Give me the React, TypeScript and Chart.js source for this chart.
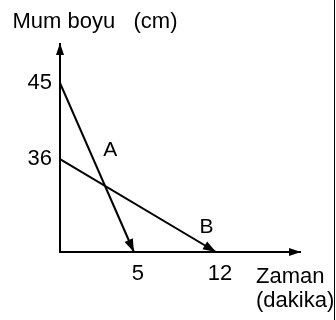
import React, { useEffect, useRef } from 'react';
import { Chart, registerables, LinearScale } from 'chart.js';

// ---- data ----
const candleATime = [0, 5];
const candleAHeight = [45, 0];
const candleBTime = [0, 12];
const candleBHeight = [36, 0];
const xTickValues = [5, 12];
const yTickValues = [36, 45];
const seriesNames = ['A', 'B'];
const yAxisTitle = 'Mum boyu   (cm)';
const xAxisTitle = ['Zaman', '(dakika)'];
// label anchors in data units
const seriesLabelX = [3.4, 11.2];
const seriesLabelY = [37, 9.5];

// schematic (not-to-scale) axis layout: [value, fraction of axis]
const X_STOPS = [[0, 0], [5, 0.308], [12, 0.65], [16, 1]];
const Y_STOPS = [[0, 0], [36, 0.447], [45, 0.8125], [55, 1]];

function interp(stops: number[][], v: number, from: number, to: number) {
  if (v <= stops[0][from]) return stops[0][to];
  for (let i = 1; i < stops.length; i++) {
    const a = stops[i - 1], b = stops[i];
    if (v <= b[from]) {
      return a[to] + ((v - a[from]) / (b[from] - a[from])) * (b[to] - a[to]);
    }
  }
  return stops[stops.length - 1][to];
}

class SchematicScale extends LinearScale {
  static id = 'schematic';
  static defaults = LinearScale.defaults;
  stopsFor() {
    return (this as any).axis === 'x' ? X_STOPS : Y_STOPS;
  }
  getPixelForValue(value: number) {
    if (value === null || value === undefined || isNaN(value)) return NaN;
    return this.getPixelForDecimal(interp(this.stopsFor(), value, 0, 1));
  }
  getValueForPixel(pixel: number) {
    return interp(this.stopsFor(), this.getDecimalForPixel(pixel), 1, 0);
  }
}

Chart.register(...registerables, SchematicScale);

const FONT = "'Liberation Sans', Arial, sans-serif";

function tri(ctx: CanvasRenderingContext2D, tx: number, ty: number, ang: number, len: number, hw: number) {
  const bx = tx - Math.cos(ang) * len;
  const by = ty - Math.sin(ang) * len;
  const nx = -Math.sin(ang) * hw;
  const ny = Math.cos(ang) * hw;
  ctx.beginPath();
  ctx.moveTo(tx, ty);
  ctx.lineTo(bx + nx, by + ny);
  ctx.lineTo(bx - nx, by - ny);
  ctx.closePath();
  ctx.fill();
}

const decorPlugin = {
  id: 'decor',
  afterDatasetsDraw(chart: any) {
    const ctx = chart.ctx as CanvasRenderingContext2D;
    ctx.save();
    ctx.fillStyle = '#000';
    chart.data.datasets.forEach((_: any, i: number) => {
      const meta = chart.getDatasetMeta(i);
      const pts = meta.data;
      if (pts.length < 2) return;
      const p0 = pts[pts.length - 2], p1 = pts[pts.length - 1];
      const ang = Math.atan2(p1.y - p0.y, p1.x - p0.x);
      tri(ctx, p1.x, p1.y, ang, 13, 4.5);
    });
    ctx.restore();
  },
  afterDraw(chart: any) {
    const ctx = chart.ctx as CanvasRenderingContext2D;
    const { left, right, top, bottom } = chart.chartArea;
    const xs = chart.scales.x, ys = chart.scales.y;
    ctx.save();
    ctx.fillStyle = '#000';
    // axis arrows
    tri(ctx, left, top - 1, -Math.PI / 2, 12, 4);
    tri(ctx, right + 1, bottom, 0, 12, 4);
    // texts
    ctx.font = `22px ${FONT}`;
    ctx.textBaseline = 'alphabetic';
    ctx.textAlign = 'left';
    ctx.fillText(yAxisTitle, 12.5, 27.5);
    ctx.fillText(xAxisTitle[0], 256, 283);
    ctx.fillText(xAxisTitle[1], 256, 307);
    ctx.textAlign = 'center';
    ctx.textBaseline = 'middle';
    ctx.font = `21px ${FONT}`;
    seriesNames.forEach((n, i) => {
      ctx.fillText(n, xs.getPixelForValue(seriesLabelX[i]), ys.getPixelForValue(seriesLabelY[i]));
    });
    // right edge frame
    ctx.fillStyle = '#fff';
    ctx.fillRect(334, 0, 2, chart.height);
    ctx.strokeStyle = '#000';
    ctx.lineWidth = 1;
    ctx.beginPath();
    ctx.moveTo(334.5, 0);
    ctx.lineTo(334.5, chart.height);
    ctx.stroke();
    ctx.restore();
  },
};

export default function App() {
  const ref = useRef<HTMLCanvasElement>(null);
  useEffect(() => {
    document.body.style.margin = '0';
    const canvas = ref.current!;
    const toPts = (xs: number[], ys: number[]) => xs.map((x, i) => ({ x, y: ys[i] }));
    const tickFont = { family: FONT, size: 22 };
    const chart = new Chart(canvas, {
      type: 'line',
      data: {
        datasets: [
          { label: seriesNames[0], data: toPts(candleATime, candleAHeight), borderColor: '#000', borderWidth: 2, pointRadius: 0, tension: 0, clip: false as any },
          { label: seriesNames[1], data: toPts(candleBTime, candleBHeight), borderColor: '#000', borderWidth: 2, pointRadius: 0, tension: 0, clip: false as any },
        ],
      },
      options: {
        animation: false,
        responsive: false,
        devicePixelRatio: 1,
        events: [],
        layout: { padding: { top: 44, right: 36, left: 0, bottom: 0 } },
        plugins: { legend: { display: false }, tooltip: { enabled: false }, title: { display: false } },
        scales: {
          x: {
            type: 'schematic' as any,
            min: 0,
            max: 16,
            afterBuildTicks: (s: any) => { s.ticks = xTickValues.map((v) => ({ value: v })); },
            afterFit: (s: any) => { s.height = 68; },
            grid: { display: true, drawOnChartArea: false, drawTicks: false },
            border: { display: true, color: '#000', width: 2 },
            ticks: { font: tickFont, color: '#000', padding: 9, labelOffset: 4, autoSkip: false, maxRotation: 0, callback: (v: any) => String(v) },
          },
          y: {
            type: 'schematic' as any,
            min: 0,
            max: 55,
            afterBuildTicks: (s: any) => { s.ticks = yTickValues.map((v) => ({ value: v })); },
            afterFit: (s: any) => { s.width = 60; },
            grid: { display: true, drawOnChartArea: false, drawTicks: false },
            border: { display: true, color: '#000', width: 2 },
            ticks: { font: tickFont, color: '#000', padding: 8, autoSkip: false, callback: (v: any) => String(v) },
          },
        } as any,
      },
      plugins: [decorPlugin],
    });
    return () => chart.destroy();
  }, []);
  return <canvas ref={ref} width={336} height={320} style={{ display: 'block' }} />;
}
